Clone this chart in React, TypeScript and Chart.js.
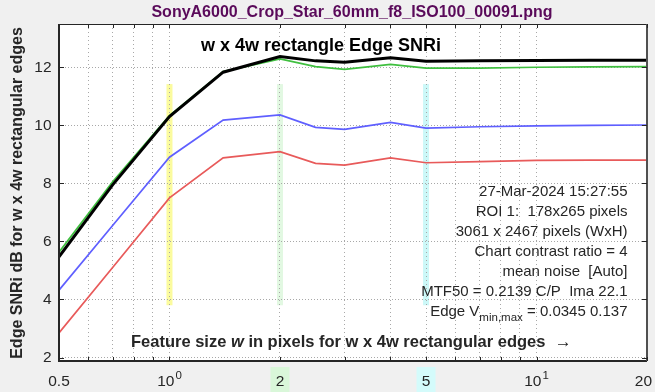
import React, { useEffect, useRef } from "react";
import { Chart, registerables } from "chart.js";
Chart.register(...registerables);

// ---- data ----
const featureSizes = [0.5, 0.7, 1, 1.4, 2, 2.5, 3, 4, 5, 7, 10, 14, 20];
const snrTotal = [5.47, 7.95, 10.3, 11.83, 12.37, 12.22, 12.17, 12.33, 12.21, 12.22, 12.23, 12.24, 12.24];
const snrGreen = [5.63, 8.05, 10.33, 11.85, 12.29, 12.02, 11.93, 12.1, 11.97, 11.97, 12.0, 12.01, 12.02];
const snrBlue = [4.32, 6.55, 8.9, 10.18, 10.36, 9.93, 9.86, 10.1, 9.9, 9.95, 9.98, 10.0, 10.01];
const snrRed = [2.85, 5.1, 7.5, 8.88, 9.09, 8.69, 8.63, 8.88, 8.71, 8.75, 8.79, 8.8, 8.8];

const yTickValues = [2, 4, 6, 8, 10, 12];
const xGridValues = [0.5, 0.6, 0.7, 0.8, 0.9, 1, 2, 3, 4, 5, 6, 7, 8, 9, 10, 20];
const xLabelValues = [0.5, 1, 2, 5, 10, 20];
const xLabelBase = ["0.5", "10", "2", "5", "10", "20"];
const xLabelSup = ["", "0", "", "", "1", ""];
const xLabelBg = ["", "", "#d9f7d9", "#d4fbfb", "", ""];

const highlightX = [1, 2, 5];
const highlightColors = ["#fbfb9e", "#e2f8e2", "#ccf8f8"];
const highlightRange = [3.8, 11.42];

const Y_MIN = 1.88;
const Y_MAX = 13.49;
const X_MIN = 0.5;
const X_MAX = 20;

const titleText = "SonyA6000_Crop_Star_60mm_f8_ISO100_00091.png";
const innerTitle = "w x 4w rectangle Edge SNRi";
const yAxisLabel = "Edge SNRi dB for w x 4w rectangular edges";
const infoLines = [
  "27-Mar-2024 15:27:55",
  "ROI 1:  178x265 pixels",
  "3061 x 2467 pixels (WxH)",
  "Chart contrast ratio = 4",
  "mean noise  [Auto]",
  "MTF50 = 0.2139 C/P  Ima 22.1",
];
const edgeVLine = ["Edge V", "min,max", " = 0.0345 0.137"];

const FONT = "'Liberation Sans', Arial, Helvetica, sans-serif";
const TXT = "#262626";

const decoPlugin = {
  id: "deco",
  beforeDraw(chart: any) {
    const { ctx, chartArea: a, scales } = chart;
    const x = scales.x;
    const y = scales.y;
    ctx.save();
    ctx.fillStyle = "#f0f0f0";
    ctx.fillRect(0, 0, chart.width, chart.height);
    ctx.fillStyle = "#ffffff";
    ctx.fillRect(a.left, a.top, a.right - a.left, a.bottom - a.top);
    const t = y.getPixelForValue(highlightRange[1]);
    const b = y.getPixelForValue(highlightRange[0]);
    highlightX.forEach((v, i) => {
      const px = x.getPixelForValue(v);
      ctx.fillStyle = highlightColors[i];
      ctx.fillRect(px - 3, t, 6, b - t);
    });
    ctx.restore();
  },
  afterDraw(chart: any) {
    const { ctx, chartArea: a, scales } = chart;
    const x = scales.x;
    const y = scales.y;
    ctx.save();
    // box
    ctx.strokeStyle = TXT;
    ctx.lineWidth = 1;
    ctx.beginPath();
    ctx.moveTo(a.left, a.top + 0.5);
    ctx.lineTo(a.right, a.top + 0.5);
    ctx.stroke();
    ctx.lineWidth = 2;
    ctx.beginPath();
    ctx.moveTo(a.left, a.top);
    ctx.lineTo(a.left, a.bottom);
    ctx.lineTo(a.right, a.bottom);
    ctx.stroke();
    ctx.strokeStyle = "#505050";
    ctx.beginPath();
    ctx.moveTo(a.right, a.top);
    ctx.lineTo(a.right, a.bottom);
    ctx.stroke();
    // ticks
    ctx.strokeStyle = TXT;
    ctx.lineWidth = 1;
    ctx.beginPath();
    yTickValues.forEach((v) => {
      const py = Math.round(y.getPixelForValue(v)) + 0.5;
      ctx.moveTo(a.left, py);
      ctx.lineTo(a.left + 5, py);
      ctx.moveTo(a.right, py);
      ctx.lineTo(a.right - 5, py);
    });
    xGridValues.forEach((v) => {
      const px = Math.round(x.getPixelForValue(v)) + 0.5;
      ctx.moveTo(px, a.bottom);
      ctx.lineTo(px, a.bottom - 4);
      ctx.moveTo(px, a.top);
      ctx.lineTo(px, a.top + 4);
    });
    ctx.stroke();

    // y tick labels
    ctx.fillStyle = TXT;
    ctx.font = `15.5px ${FONT}`;
    ctx.textAlign = "right";
    ctx.textBaseline = "middle";
    yTickValues.forEach((v) => {
      ctx.fillText(String(v), 51.5, y.getPixelForValue(v));
    });

    // x tick labels
    const baseFont = `15.5px ${FONT}`;
    const supFont = `11.5px ${FONT}`;
    xLabelValues.forEach((v, i) => {
      const px = x.getPixelForValue(v);
      ctx.font = baseFont;
      const wb = ctx.measureText(xLabelBase[i]).width;
      ctx.font = supFont;
      const ws = xLabelSup[i] ? ctx.measureText(xLabelSup[i]).width + 1 : 0;
      const total = wb + ws;
      let left = px - total / 2;
      if (left + total > 652) left = 652 - total;
      if (xLabelBg[i]) {
        ctx.fillStyle = xLabelBg[i];
        ctx.fillRect(px - 9.5, 367, 19, 25);
      }
      ctx.fillStyle = TXT;
      ctx.textAlign = "left";
      ctx.textBaseline = "middle";
      ctx.font = baseFont;
      ctx.fillText(xLabelBase[i], left, 382);
      if (xLabelSup[i]) {
        ctx.font = supFont;
        ctx.fillText(xLabelSup[i], left + wb + 1, 376);
      }
    });

    // title
    ctx.fillStyle = "#5a0a5a";
    ctx.font = `bold 16px ${FONT}`;
    ctx.textAlign = "center";
    ctx.textBaseline = "middle";
    ctx.fillText(titleText, 352, 13);

    // inner title
    ctx.fillStyle = "#000000";
    ctx.font = `bold 18px ${FONT}`;
    ctx.fillText(innerTitle, 321, 46);

    // y label
    ctx.save();
    ctx.translate(18, 193);
    ctx.rotate(-Math.PI / 2);
    ctx.fillStyle = TXT;
    ctx.font = `bold 16px ${FONT}`;
    ctx.textAlign = "center";
    ctx.textBaseline = "middle";
    ctx.fillText(yAxisLabel, 0, 0);
    ctx.restore();

    // x label inside plot
    const parts: [string, string][] = [
      ["Feature size ", `bold 16.5px ${FONT}`],
      ["w", `italic bold 16.5px ${FONT}`],
      [" in pixels for w x 4w rectangular edges  ", `bold 16.5px ${FONT}`],
      ["\u2192", `17px ${FONT}`],
    ];
    let cx = 131;
    ctx.fillStyle = TXT;
    ctx.textAlign = "left";
    ctx.textBaseline = "middle";
    parts.forEach(([s, f]) => {
      ctx.font = f;
      ctx.fillText(s, cx, 342.5);
      cx += ctx.measureText(s).width;
    });

    // info text
    ctx.font = `15px ${FONT}`;
    ctx.textAlign = "right";
    ctx.fillStyle = TXT;
    const rx = 627.5;
    infoLines.forEach((s, i) => {
      ctx.fillText(s, rx, 191.5 + i * 20);
    });
    const ly = 191.5 + infoLines.length * 20;
    ctx.font = `15px ${FONT}`;
    const w3 = ctx.measureText(edgeVLine[2]).width;
    ctx.fillText(edgeVLine[2], rx, ly);
    ctx.font = `11.5px ${FONT}`;
    const w2 = ctx.measureText(edgeVLine[1]).width;
    ctx.fillText(edgeVLine[1], rx - w3, ly + 6);
    ctx.font = `15px ${FONT}`;
    ctx.fillText(edgeVLine[0], rx - w3 - w2, ly);
    ctx.restore();
  },
};

export default function App() {
  const ref = useRef<HTMLCanvasElement | null>(null);
  useEffect(() => {
    document.body.style.margin = "0";
    const canvas = ref.current;
    if (!canvas) return;
    const mk = (vals: number[]) => featureSizes.map((v, i) => ({ x: v, y: vals[i] }));
    const chart = new Chart(canvas, {
      type: "line",
      data: {
        datasets: [
          { data: mk(snrTotal), borderColor: "#000000", borderWidth: 3, order: 0 },
          { data: mk(snrGreen), borderColor: "#3fbf3f", borderWidth: 1.7, order: 1 },
          { data: mk(snrBlue), borderColor: "#5f5fff", borderWidth: 1.7, order: 2 },
          { data: mk(snrRed), borderColor: "#e85a5a", borderWidth: 1.7, order: 3 },
        ] as any,
      },
      options: {
        animation: false,
        responsive: false,
        devicePixelRatio: 1,
        layout: { padding: { left: 59, right: 8, top: 24, bottom: 31 } },
        elements: { point: { radius: 0 }, line: { tension: 0 } },
        plugins: { legend: { display: false }, tooltip: { enabled: false } },
        scales: {
          x: {
            type: "logarithmic",
            min: X_MIN,
            max: X_MAX,
            afterBuildTicks: (s: any) => {
              s.ticks = xGridValues.map((v) => ({ value: v }));
            },
            ticks: { display: false },
            grid: { color: "#a8a8a8", lineWidth: 1, drawTicks: false },
            border: { display: false, dash: [1, 3] },
          },
          y: {
            type: "linear",
            min: Y_MIN,
            max: Y_MAX,
            afterBuildTicks: (s: any) => {
              s.ticks = yTickValues.map((v) => ({ value: v }));
            },
            ticks: { display: false },
            grid: { color: "#a8a8a8", lineWidth: 1, drawTicks: false },
            border: { display: false, dash: [1, 2] },
          },
        },
      } as any,
      plugins: [decoPlugin],
    });
    return () => chart.destroy();
  }, []);
  return (
    <div style={{ width: 655, height: 392 }}>
      <canvas ref={ref} width={655} height={392} style={{ display: "block" }} />
    </div>
  );
}
